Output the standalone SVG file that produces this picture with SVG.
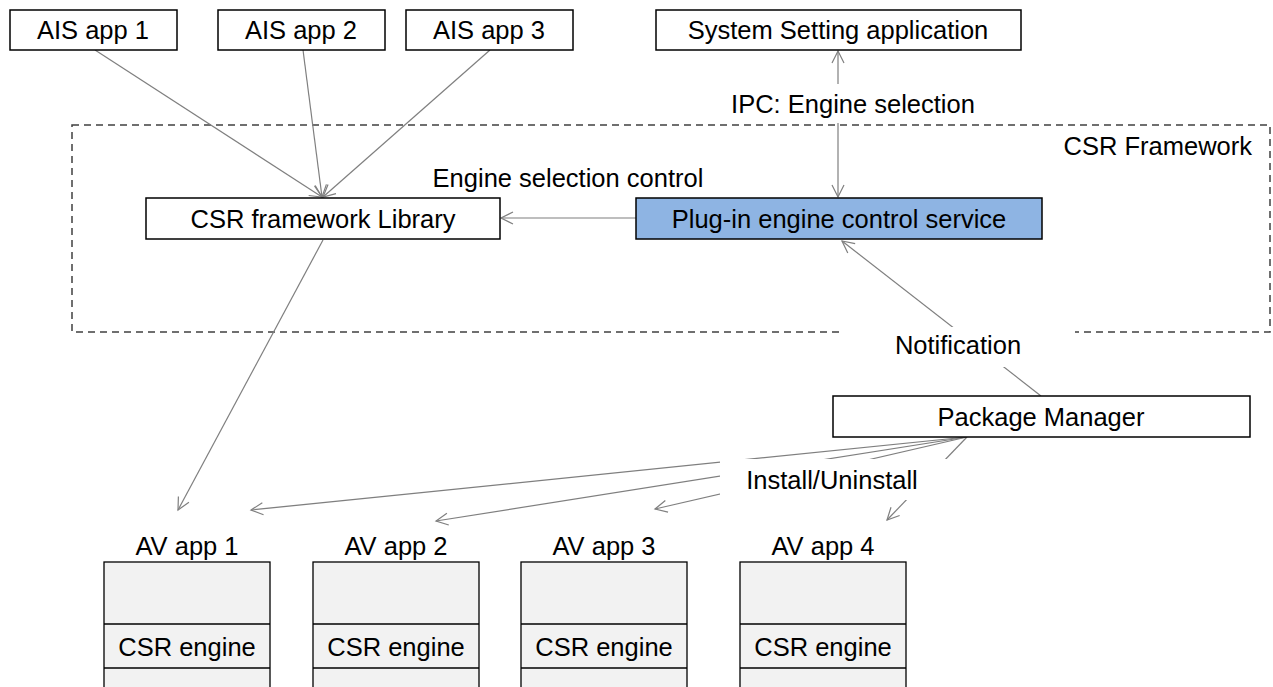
<svg xmlns="http://www.w3.org/2000/svg" width="1273" height="687" viewBox="0 0 1273 687">
<defs>
<style>
text{font-family:"Liberation Sans",Arial,sans-serif;font-size:25.5px;fill:#000;text-anchor:middle}
.box{fill:#fff;stroke:#000;stroke-width:1.5}
.blue{fill:#8EB4E3;stroke:#000;stroke-width:1.5}
.av{fill:#F2F2F2;stroke:#000;stroke-width:1.3}
.ln{stroke:#7f7f7f;stroke-width:1.2;fill:none}
.dash{fill:none;stroke:#404040;stroke-width:1.5;stroke-dasharray:7,5}
.bg{fill:#fff;stroke:none}
</style>
<marker id="ah" markerWidth="16" markerHeight="16" refX="14" refY="8" orient="auto" markerUnits="userSpaceOnUse">
<path d="M2,2 L14,8 L2,14" fill="none" stroke="#7f7f7f" stroke-width="1.2"/>
</marker>
</defs>
<rect width="1273" height="687" fill="#fff"/>

<g id="csr-framework">
<rect class="dash" x="72" y="125" width="1198" height="207"/>
<text x="1252" y="155" style="text-anchor:end">CSR Framework</text>
</g>

<g id="connectors">
<line class="ln" x1="95" y1="50" x2="322" y2="197" marker-end="url(#ah)"/>
<line class="ln" x1="303" y1="50" x2="322" y2="197" marker-end="url(#ah)"/>
<line class="ln" x1="490" y1="50" x2="323" y2="197" marker-end="url(#ah)"/>
<line class="ln" x1="636" y1="218" x2="501" y2="218" marker-end="url(#ah)"/>
<line class="ln" x1="838" y1="110" x2="838" y2="51" marker-end="url(#ah)"/>
<line class="ln" x1="838" y1="110" x2="838" y2="197" marker-end="url(#ah)"/>
<line class="ln" x1="323" y1="240" x2="178" y2="510" marker-end="url(#ah)"/>
<line class="ln" x1="1041" y1="396" x2="842" y2="241" marker-end="url(#ah)"/>
<line class="ln" x1="967" y1="437" x2="251" y2="510" marker-end="url(#ah)"/>
<line class="ln" x1="967" y1="437" x2="436" y2="521" marker-end="url(#ah)"/>
<line class="ln" x1="967" y1="437" x2="655" y2="509" marker-end="url(#ah)"/>
<line class="ln" x1="967" y1="437" x2="887" y2="520" marker-end="url(#ah)"/>
<rect class="bg" x="720" y="84" width="270" height="39"/>
<text x="853" y="113">IPC: Engine selection</text>
<rect class="bg" x="843" y="327" width="232" height="40"/>
<text x="958" y="354">Notification</text>
<rect class="bg" x="720" y="459" width="228" height="41"/>
<text x="832" y="489">Install/Uninstall</text>
<text x="568" y="187">Engine selection control</text>
</g>

<g id="ais-app-1"><rect class="box" x="10" y="10" width="167" height="40"/><text x="93" y="39">AIS app 1</text></g>
<g id="ais-app-2"><rect class="box" x="218" y="10" width="167" height="40"/><text x="301" y="39">AIS app 2</text></g>
<g id="ais-app-3"><rect class="box" x="406" y="10" width="167" height="40"/><text x="489" y="39">AIS app 3</text></g>
<g id="system-setting"><rect class="box" x="656" y="10" width="365" height="40"/><text x="838" y="39">System Setting application</text></g>
<g id="csr-library"><rect class="box" x="146" y="198" width="354" height="41"/><text x="323" y="228">CSR framework Library</text></g>
<g id="plugin-service"><rect class="blue" x="636" y="198" width="406" height="41"/><text x="839" y="228">Plug-in engine control service</text></g>
<g id="package-manager"><rect class="box" x="833" y="396" width="417" height="41"/><text x="1041" y="426">Package Manager</text></g>

<g id="av-app-1"><text x="187" y="555">AV app 1</text><rect class="av" x="104" y="562" width="166" height="130"/><line class="av" x1="104" y1="624" x2="270" y2="624"/><line class="av" x1="104" y1="668" x2="270" y2="668"/><text x="187" y="656">CSR engine</text></g>
<g id="av-app-2"><text x="396" y="555">AV app 2</text><rect class="av" x="313" y="562" width="166" height="130"/><line class="av" x1="313" y1="624" x2="479" y2="624"/><line class="av" x1="313" y1="668" x2="479" y2="668"/><text x="396" y="656">CSR engine</text></g>
<g id="av-app-3"><text x="604" y="555">AV app 3</text><rect class="av" x="521" y="562" width="166" height="130"/><line class="av" x1="521" y1="624" x2="687" y2="624"/><line class="av" x1="521" y1="668" x2="687" y2="668"/><text x="604" y="656">CSR engine</text></g>
<g id="av-app-4"><text x="823" y="555">AV app 4</text><rect class="av" x="740" y="562" width="166" height="130"/><line class="av" x1="740" y1="624" x2="906" y2="624"/><line class="av" x1="740" y1="668" x2="906" y2="668"/><text x="823" y="656">CSR engine</text></g>
</svg>
